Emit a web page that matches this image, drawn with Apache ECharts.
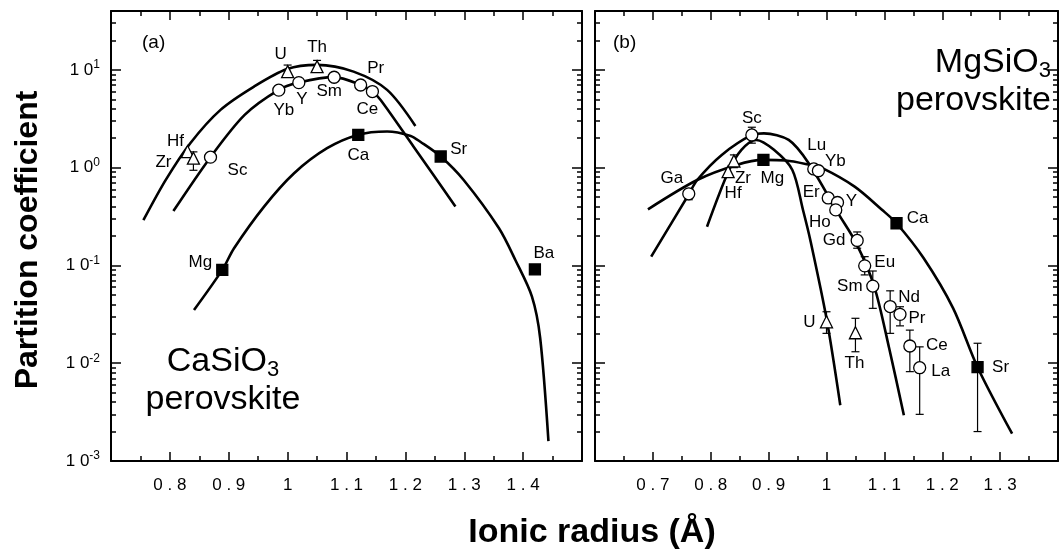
<!DOCTYPE html>
<html>
<head>
<meta charset="utf-8">
<script src="https://cdn.jsdelivr.net/npm/echarts@6/dist/echarts.min.js"></script>
<style>
  html, body { margin: 0; padding: 0; background: #fff; }
  #chart { width: 1061px; height: 551px; }
</style>
</head>
<body>
<div id="chart"></div>
<script>
// ---------- (a) CaSiO3 perovskite ----------
const aCircleNames = ['Sc', 'Yb', 'Y', 'Sm', 'Pr', 'Ce']
const aCircleR = [0.869, 0.985, 1.019, 1.079, 1.124, 1.144]
const aCircleD = [1.28, 6.2, 7.4, 8.4, 7.0, 6.0]
const aTriNames = ['Hf', 'Zr', 'U', 'Th']
const aTriR = [0.83, 0.84, 1.0, 1.05]
const aTriD = [1.46, 1.25, 9.6, 10.8]
const aSqNames = ['Mg', 'Ca', 'Sr', 'Ba']
const aSqR = [0.889, 1.12, 1.26, 1.42]
const aSqD = [0.09, 2.16, 1.30, 0.091]
const aErrR = [0.84, 1.0, 1.05]
const aErrLo = [0.94, 8.8, 9.8]
const aErrHi = [1.45, 11.2, 12.5]
// curves
const aCurve4R = [0.755, 0.793, 0.835, 0.886, 0.943, 0.999, 1.050, 1.112, 1.169, 1.217]
const aCurve4D = [0.29, 0.75, 1.79, 3.9, 6.75, 10.2, 11.25, 9.6, 6.24, 2.67]
const aCurve3R = [0.806, 0.869, 0.927, 0.985, 1.019, 1.079, 1.124, 1.144, 1.158, 1.214, 1.285]
const aCurve3D = [0.36, 1.28, 3.46, 6.24, 7.42, 8.42, 7.02, 6.0, 4.93, 1.64, 0.40]
const aCurve2R = [0.841, 0.889, 0.909, 0.960, 1.011, 1.067, 1.119, 1.169, 1.209, 1.226, 1.260, 1.299, 1.359, 1.387, 1.415, 1.429, 1.443]
const aCurve2D = [0.035, 0.09, 0.15, 0.40, 0.877, 1.58, 2.16, 2.34, 2.11, 1.83, 1.30, 0.748, 0.24, 0.113, 0.048, 0.018, 0.0016]
const aTickLabels = ['0.8', '0.9', '1', '1.1', '1.2', '1.3', '1.4']

// ---------- (b) MgSiO3 perovskite ----------
const bCircleNames = ['Ga', 'Sc', 'Lu', 'Yb', 'Er', 'Y', 'Ho', 'Gd', 'Eu', 'Sm', 'Nd', 'Pr', 'Ce', 'La']
const bCircleR = [0.762, 0.871, 0.978, 0.986, 1.003, 1.019, 1.016, 1.053, 1.066, 1.080, 1.110, 1.127, 1.144, 1.161]
const bCircleD = [0.54, 2.16, 0.97, 0.93, 0.49, 0.44, 0.37, 0.18, 0.099, 0.0615, 0.038, 0.0316, 0.015, 0.009]
const bTriNames = ['Hf', 'Zr', 'U', 'Th']
const bTriR = [0.83, 0.84, 1.0, 1.05]
const bTriD = [0.91, 1.17, 0.0265, 0.0205]
const bSqNames = ['Mg', 'Ca', 'Sr']
const bSqR = [0.891, 1.121, 1.261]
const bSqD = [1.2, 0.27, 0.0091]
const bErrR = [0.762, 0.871, 0.84, 1.053, 1.066, 1.080, 1.110, 1.127, 1.144, 1.161, 1.0, 1.05, 1.261]
const bErrLo = [0.47, 1.78, 1.0, 0.15, 0.08, 0.0364, 0.0202, 0.0241, 0.0082, 0.0030, 0.0202, 0.0131, 0.0020]
const bErrHi = [0.58, 2.59, 1.35, 0.22, 0.123, 0.0877, 0.055, 0.0378, 0.0218, 0.0147, 0.0336, 0.0288, 0.016]
const bCurve2R = [0.6915, 0.7765, 0.8446, 0.8905, 0.9296, 0.972, 0.992, 1.0486, 1.0963, 1.121, 1.1677, 1.2187, 1.261, 1.3207]
const bCurve2D = [0.375, 0.748, 1.066, 1.20, 1.185, 1.066, 0.993, 0.639, 0.369, 0.27, 0.119, 0.0366, 0.0091, 0.0019]
const bCurve3R = [0.6971, 0.7624, 0.7765, 0.819, 0.8713, 0.892, 0.9347, 0.9692, 1.0202, 1.0515, 1.0827, 1.1082, 1.1337]
const bCurve3D = [0.123, 0.538, 0.748, 1.35, 2.16, 2.24, 1.92, 1.11, 0.341, 0.168, 0.0605, 0.0143, 0.00294]
const bCurve4R = [0.7935, 0.8304, 0.853, 0.8786, 0.9092, 0.941, 0.9594, 0.972, 1.0005, 1.0238]
const bCurve4D = [0.249, 0.91, 1.52, 1.92, 1.52, 0.947, 0.369, 0.182, 0.0276, 0.00372]
const bTickLabels = ['0.7', '0.8', '0.9', '1', '1.1', '1.2', '1.3']

// label offsets (px from the marker centre)
const aLabelOffset = {
  Hf: [-12, -10], Zr: [-30, 4], Sc: [27, 13], U: [-7, -17], Th: [0, -19], Yb: [5, 20], Y: [3, 17],
  Sm: [-5, 14], Pr: [15, -17], Ce: [-5, 18], Ca: [0, 20], Sr: [18, -7], Ba: [9, -16], Mg: [-22, -8]
}
const bLabelOffset = {
  Ga: [-17, -16], Sc: [0, -17], Zr: [9, 17], Hf: [5, 22], Mg: [9, 18], Lu: [3, -24], Yb: [17, -9],
  Er: [-17, -6], Y: [14, -1], Ho: [-16, 12], Gd: [-23, 0], Eu: [20, -4], Sm: [-23, 0], Nd: [19, -9],
  Pr: [17, 4], Ce: [27, -1], La: [21, 4], U: [-17, 0], Th: [-1, 31], Ca: [21, -5], Sr: [23, 0]
}

const FONT = 'Liberation Sans, Arial, Helvetica, sans-serif'
const black = '#000'
const tickStyle = { color: black, width: 1.5 }

const yMinor = []
for (let e = -3; e <= 1; e++) {
  for (let k = 2; k <= 9; k++) {
    const v = Number((k * Math.pow(10, e)).toPrecision(3))
    if (v < 40) yMinor.push(v)
  }
}

function makeXAxes(gridIndex, min, max, labels) {
  const base = {
    gridIndex, type: 'value', min, max, interval: 0.1,
    axisLine: { show: true, onZero: false, lineStyle: { color: black, width: 2 } },
    axisTick: { show: true, inside: true, length: 9, lineStyle: tickStyle },
    minorTick: { show: true, splitNumber: 2, length: 5, lineStyle: tickStyle },
    splitLine: { show: false },
    minorSplitLine: { show: false }
  }
  return [
    {
      ...base, position: 'bottom',
      axisLabel: {
        margin: 16, color: black, fontSize: 17, fontFamily: FONT,
        formatter: v => {
          const s = String(+(+v).toFixed(2))
          return labels.includes(s) ? s.split('').join(' ') : ''
        }
      }
    },
    { ...base, position: 'top', axisLabel: { show: false } }
  ]
}

function makeYAxes(gridIndex, withLabels) {
  const base = {
    gridIndex, type: 'log', logBase: 10, min: 0.001, max: 40,
    splitLine: { show: false },
    axisLine: { show: true, onZero: false, lineStyle: { color: black, width: 2 } }
  }
  const labels = {
    show: withLabels, margin: 11, color: black,
    formatter: v => {
      const e = Math.round(Math.log10(v))
      if (e > 1) return ''
      return '{b|1 0}{s|' + (e < 0 ? '-' : '') + Math.abs(e) + '}'
    },
    rich: {
      b: { fontSize: 17, fontFamily: FONT, color: black, lineHeight: 22 },
      s: { fontSize: 12, fontFamily: FONT, color: black, lineHeight: 12, verticalAlign: 'top' }
    }
  }
  const minor = { show: true, inside: true, length: 5, customValues: yMinor, lineStyle: tickStyle }
  return [
    { ...base, position: 'left', axisTick: { show: true, inside: true, length: 10, lineStyle: tickStyle }, axisLabel: labels },
    { ...base, position: 'left', axisLine: { show: false }, axisTick: minor, axisLabel: { show: false } },
    { ...base, position: 'right', axisTick: { show: true, inside: true, length: 10, lineStyle: tickStyle }, axisLabel: { show: false } },
    { ...base, position: 'right', axisLine: { show: false }, axisTick: minor, axisLabel: { show: false } }
  ]
}

function curve(xi, yi, r, d) {
  return {
    type: 'line', xAxisIndex: xi, yAxisIndex: yi, silent: true, z: 2,
    data: r.map((x, i) => [x, d[i]]),
    showSymbol: false, smooth: 0.3,
    lineStyle: { color: black, width: 2.6 }
  }
}

function points(xi, yi, names, r, d, symbol, size, fill, offsets) {
  return {
    type: 'scatter', xAxisIndex: xi, yAxisIndex: yi, z: 4,
    symbol, symbolSize: size,
    itemStyle: { color: fill, borderColor: black, borderWidth: 1.3, opacity: 1 },
    label: {
      show: true, position: 'inside', formatter: '{b}',
      color: black, fontSize: 17, fontFamily: FONT
    },
    data: names.map((n, i) => ({
      name: n, value: [r[i], d[i]],
      label: { offset: offsets[n] || [0, 0] }
    }))
  }
}

function errBars(xi, yi, r, lo, hi) {
  return {
    type: 'custom', xAxisIndex: xi, yAxisIndex: yi, z: 3,
    encode: { x: 0, y: [1, 2] },
    data: r.map((x, i) => [x, lo[i], hi[i]]),
    renderItem: (params, api) => {
      const x = api.value(0)
      const top = api.coord([x, api.value(2)])
      const bot = api.coord([x, api.value(1)])
      const w = 4
      const st = { stroke: black, lineWidth: 1.2 }
      return {
        type: 'group',
        children: [
          { type: 'line', shape: { x1: top[0], y1: top[1], x2: bot[0], y2: bot[1] }, style: st },
          { type: 'line', shape: { x1: top[0] - w, y1: top[1], x2: top[0] + w, y2: top[1] }, style: st },
          { type: 'line', shape: { x1: bot[0] - w, y1: bot[1], x2: bot[0] + w, y2: bot[1] }, style: st }
        ]
      }
    }
  }
}

const chart = echarts.init(document.getElementById('chart'))
chart.setOption({
  animation: false,
  backgroundColor: '#fff',
  grid: [
    { left: 111, top: 11, width: 471, height: 450 },
    { left: 595, top: 11, width: 471, height: 450 }
  ],
  xAxis: [
    ...makeXAxes(0, 0.7, 1.5, aTickLabels),
    ...makeXAxes(1, 0.6, 1.4, bTickLabels)
  ],
  yAxis: [
    ...makeYAxes(0, true),
    ...makeYAxes(1, false)
  ],
  series: [
    curve(0, 0, aCurve4R, aCurve4D),
    curve(0, 0, aCurve3R, aCurve3D),
    curve(0, 0, aCurve2R, aCurve2D),
    errBars(0, 0, aErrR, aErrLo, aErrHi),
    points(0, 0, aCircleNames, aCircleR, aCircleD, 'circle', 12, '#fff', aLabelOffset),
    points(0, 0, aTriNames, aTriR, aTriD, 'triangle', 12, '#fff', aLabelOffset),
    points(0, 0, aSqNames, aSqR, aSqD, 'rect', 11, black, aLabelOffset),

    curve(2, 4, bCurve2R, bCurve2D),
    curve(2, 4, bCurve3R, bCurve3D),
    curve(2, 4, bCurve4R, bCurve4D),
    errBars(2, 4, bErrR, bErrLo, bErrHi),
    points(2, 4, bCircleNames, bCircleR, bCircleD, 'circle', 12, '#fff', bLabelOffset),
    points(2, 4, bTriNames, bTriR, bTriD, 'triangle', 12, '#fff', bLabelOffset),
    points(2, 4, bSqNames, bSqR, bSqD, 'rect', 11, black, bLabelOffset)
  ],
  graphic: [
    { type: 'text', x: 142, y: 43, style: { text: '(a)', fontSize: 19, fontFamily: FONT, fill: black, verticalAlign: 'middle' } },
    { type: 'text', x: 613, y: 43, style: { text: '(b)', fontSize: 19, fontFamily: FONT, fill: black, verticalAlign: 'middle' } },
    {
      type: 'text', x: 223, y: 381,
      style: {
        text: '{n|CaSiO}{s|3}\n{n|perovskite}', align: 'center', verticalAlign: 'middle', fill: black,
        rich: {
          n: { fontSize: 34, fontFamily: FONT, lineHeight: 38, fill: black },
          s: { fontSize: 22, fontFamily: FONT, lineHeight: 22, verticalAlign: 'bottom', fill: black }
        }
      }
    },
    {
      type: 'text', x: 1051, y: 82,
      style: {
        text: '{n|MgSiO}{s|3}\n{n|perovskite}', align: 'right', verticalAlign: 'middle', fill: black,
        rich: {
          n: { fontSize: 34, fontFamily: FONT, lineHeight: 38, fill: black },
          s: { fontSize: 22, fontFamily: FONT, lineHeight: 22, verticalAlign: 'bottom', fill: black }
        }
      }
    },
    {
      type: 'text', x: 28, y: 240, rotation: Math.PI / 2,
      style: { text: 'Partition coefficient', fontSize: 32, fontWeight: 'bold', fontFamily: FONT, fill: black, align: 'center', verticalAlign: 'middle' }
    },
    {
      type: 'text', x: 592, y: 533,
      style: { text: 'Ionic radius (Å)', fontSize: 34, fontWeight: 'bold', fontFamily: FONT, fill: black, align: 'center', verticalAlign: 'middle' }
    }
  ]
})
</script>
</body>
</html>
